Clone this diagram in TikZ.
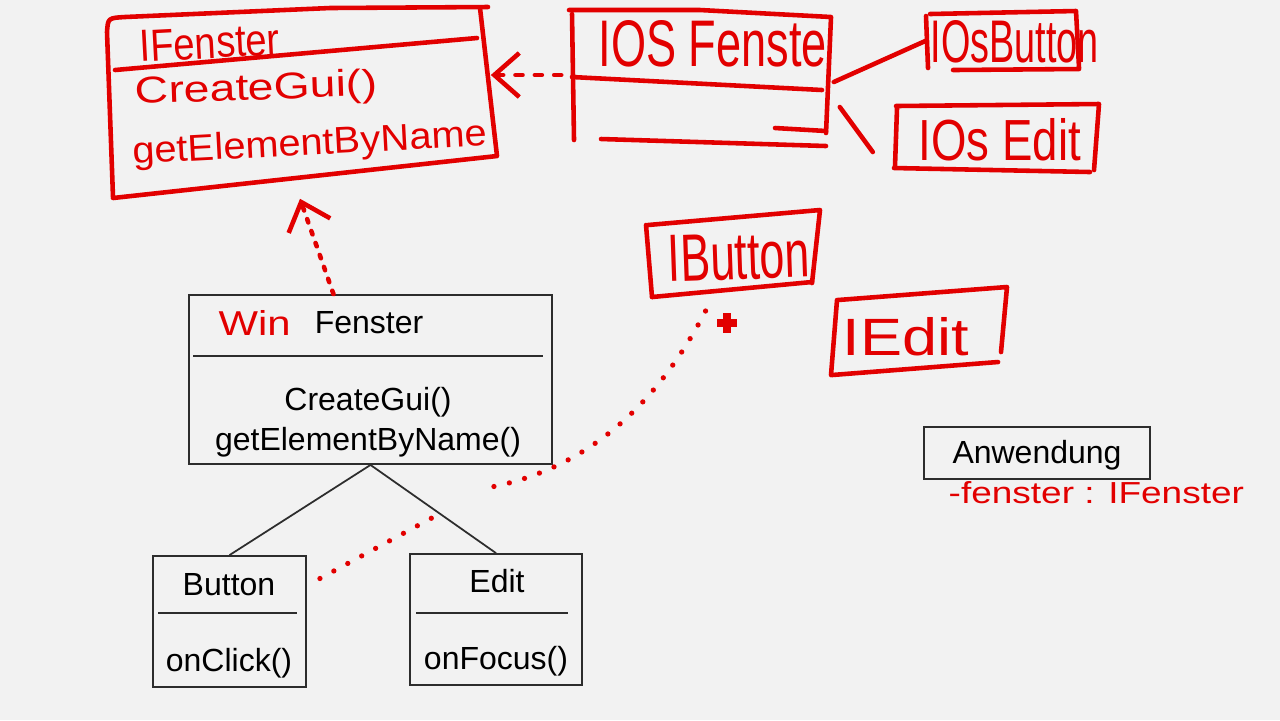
\documentclass[tikz,border=0pt]{standalone}
\usepackage{fontspec}
\setmainfont{Liberation Sans}
\usetikzlibrary{arrows.meta}
\definecolor{bgc}{RGB}{242,242,242}
\definecolor{ink}{RGB}{226,0,0}
\definecolor{pen}{RGB}{45,45,45}
\newcommand{\hw}[3]{\resizebox{#1}{#2}{#3}}
\begin{document}
\begin{tikzpicture}[x=0.01cm,y=-0.01cm,
  umlbox/.style={draw=pen,line width=0.5pt,rectangle,inner sep=0pt},
  umltext/.style={text=black,inner sep=0pt,anchor=base,font=\fontsize{9.1pt}{11pt}\selectfont},
  umlline/.style={draw=pen,line width=0.5pt},
  sketch/.style={draw=ink,line width=1.3pt,line cap=round,line join=round},
  hand/.style={text=ink,inner sep=0pt,anchor=base west},
  region/.style={rectangle,inner sep=0pt},
  dotline/.style={draw=ink,line width=1.5pt,line cap=round,dash pattern=on 0pt off 4.5pt},
  smalldots/.style={draw=ink,line width=1.3pt,line cap=round,dash pattern=on 1pt off 2.6pt},
  dashline/.style={draw=ink,line width=1.3pt,line cap=round,dash pattern=on 2pt off 3.5pt},
  barb/.style={-{Straight Barb[length=0.25cm,width=0.44cm,line width=1.3pt]}}]
\fill[bgc] (0,0) rectangle (1280,720);
\useasboundingbox (0,0) rectangle (1280,720);

% ---------- printed UML ----------
\node[umlbox,minimum width=3.63cm,minimum height=1.69cm] (fenster) at (370.5,379.5) {};
\node[umltext] (fname) at (369,333) {Fenster};
\draw[umlline] (193,356) -- (543,356);
\node[umltext] (fop1) at (368,410) {CreateGui()};
\node[umltext] (fop2) at (368,450) {getElementByName()};

\node[umlbox,minimum width=1.53cm,minimum height=1.31cm] (button) at (229.5,621.5) {};
\node[umltext] (bname) at (229,595) {Button};
\draw[umlline] (158,613) -- (297,613);
\node[umltext] (bop) at (229,671) {onClick()};

\node[umlbox,minimum width=1.72cm,minimum height=1.31cm] (edit) at (496,619.5) {};
\node[umltext] (ename) at (497,592) {Edit};
\draw[umlline] (416,613) -- (568,613);
\node[umltext] (eop) at (496,669) {onFocus()};

\node[umlbox,minimum width=2.26cm,minimum height=0.52cm] (anw) at (1037,453) {};
\node[umltext] (aname) at (1037,463) {Anwendung};

\draw[umlline] (fenster.south) -- (button.north);
\draw[umlline] (fenster.south) -- (edit.north);

% ---------- hand-drawn regions ----------
\node[region,minimum width=3.80cm,minimum height=1.90cm] (ifenster) at (300,103) {};
\node[region,minimum width=2.60cm,minimum height=1.30cm] (iosf) at (700,75) {};
\node[region,minimum width=1.54cm,minimum height=0.58cm] (iosbtn) at (1003,41) {};
\node[region,minimum width=2.04cm,minimum height=0.62cm] (iosedit) at (997,141) {};
\node[region,minimum width=1.72cm,minimum height=0.85cm] (ibutton) at (734,256) {};
\node[region,minimum width=1.76cm,minimum height=0.88cm] (iedit) at (919,331) {};

% IFenster
\draw[sketch] (113,197) -- (107,32) .. controls (108,18) .. (125,17) -- (330,8) -- (488,7);
\draw[sketch] (480,8) -- (497,156) -- (113,198);
\draw[sketch] (115,70) -- (477,38);
\node[hand,rotate=3] (tif) at (140,62) {\hw{1.40cm}{0.31cm}{IFenster}};
\node[hand,rotate=2] (tif1) at (135,104) {\hw{2.42cm}{0.27cm}{CreateGui()}};
\node[hand,rotate=3] (tif2) at (133,164) {\hw{3.54cm}{0.27cm}{getElementByName}};

% IOS Fenster
\draw[sketch] (572,14) -- (574,140);
\draw[sketch] (569,10) -- (700,10) -- (831,17) -- (826,133);
\draw[sketch] (775,128) -- (826,131);
\draw[sketch] (601,139) -- (826,146);
\draw[sketch] (572,77) -- (822,90);
\node[hand] (tiosf) at (598,66) {\hw{2.28cm}{0.46cm}{IOS Fenste}};

% IOsButton
\draw[sketch] (926,16) -- (928,68);
\draw[sketch] (930,14) -- (1076,11) -- (1079,68);
\draw[sketch] (953,70) -- (1079,69);
\node[hand] (tiosb) at (930,62) {\hw{1.68cm}{0.42cm}{IOsButton}};

% IOs Edit
\draw[sketch] (896,106) -- (1099,104) -- (1094,170);
\draw[sketch] (894,168) -- (1090,172);
\draw[sketch] (897,108) -- (895,166);
\node[hand] (tiose) at (918,160) {\hw{1.62cm}{0.42cm}{IOs Edit}};

% IButton
\draw[sketch] (648,225) -- (820,210) -- (812,283);
\draw[sketch] (652,297) -- (812,282);
\draw[sketch] (646,225) -- (652,297);
\node[hand,rotate=2] (tib) at (668,282) {\hw{1.42cm}{0.46cm}{IButton}};

% IEdit
\draw[sketch] (838,300) -- (1007,287) -- (1001,352);
\draw[sketch] (832,375) -- (998,362);
\draw[sketch] (837,300) -- (831,375);
\node[hand] (tie) at (842,355) {\hw{1.26cm}{0.38cm}{IEdit}};

% annotations
\node[hand] (twin) at (218,335) {\hw{0.72cm}{0.25cm}{Win}};
\node[hand] (tattr) at (948,503) {\hw{2.95cm}{0.22cm}{-fenster : IFenster}};

% ---------- hand-drawn connectors ----------
\draw[dashline,barb,shorten <=0.08cm] (iosf.west) -- (iosf.west -| ifenster.east);
\draw[smalldots,barb] ([xshift=-0.37cm]fenster.north) -- (ifenster.south);
\draw[sketch] (iosf.east) ++(3,7) -- (iosbtn.west);
\draw[sketch] (iosf.east) ++(9,32) -- ++(33,45);
\draw[dotline] ([xshift=0.13cm,yshift=0.43cm]button.east) -- ++(122,-66)
   ++(52,-26) .. controls +(78,-16) and +(-58,115) .. ([xshift=-0.26cm,yshift=-0.07cm]ibutton.south);

% cursor
\fill[ink] (717,319) rectangle (737,327);
\fill[ink] (723,313) rectangle (731,333);
\end{tikzpicture}
\end{document}
